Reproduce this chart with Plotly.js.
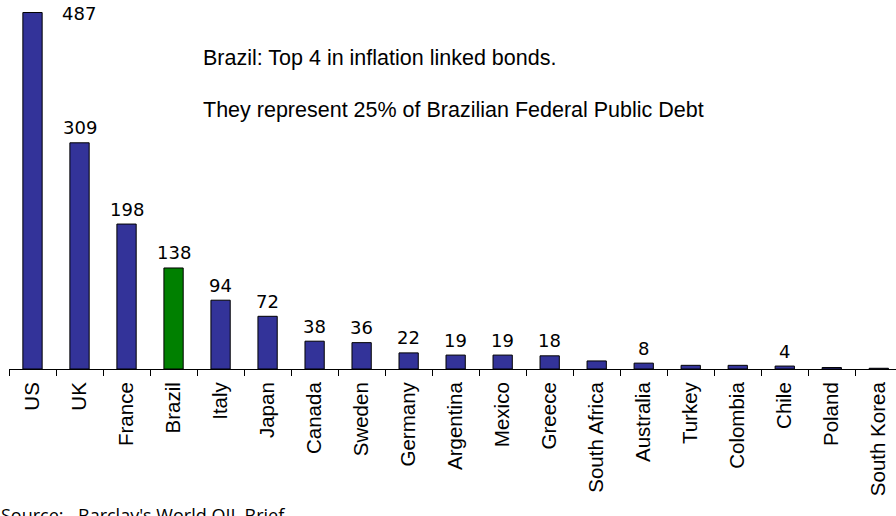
<!DOCTYPE html>
<html>
<head>
<meta charset="utf-8">
<script src="https://cdn.plot.ly/plotly-3.0.1.min.js"></script>
<style>html,body{margin:0;padding:0;background:#fff;}#chart{width:896px;height:516px;}</style>
</head>
<body>
<div id="chart"></div>
<script>
const countries = ["US","UK","France","Brazil","Italy","Japan","Canada","Sweden","Germany","Argentina","Mexico","Greece","South Africa","Australia","Turkey","Colombia","Chile","Poland","South Korea"];
const values = [487,309,198,138,94,72,38,36,22,19,19,18,11,8,5,5,4,2,1];
const shownLabels = ["487","309","198","138","94","72","38","36","22","19","19","18","","8","","","4","",""];
const highlight = "Brazil";
const noteLines = ["Brazil: Top 4 in inflation linked bonds.","They represent 25% of Brazilian Federal Public Debt"];
const sourceParts = ["Source:","Barclay's World OIL Brief"];

const colors = countries.map(c => c === highlight ? "#008000" : "#333399");

const W = 896, H = 516;
const plotTop = 3, plotBottom = 369.5, plotLeft = 9.3, catW = 47;
const plotH = plotBottom - plotTop;
const plotW = W - plotLeft;
const xMax = -0.5 + plotW / catW;

const FONT = "Liberation Sans, Arial, sans-serif";
const annotations = [];
countries.forEach((c, i) => {
  if (!shownLabels[i]) return;
  const isTop = i === 0;
  annotations.push({
    x: c, y: values[i], xref: "x", yref: "y",
    text: shownLabels[i], showarrow: false,
    xanchor: "center", yanchor: "middle",
    xshift: isTop ? 46 : 0, yshift: isTop ? -1 : 15,
    font: {family: "DejaVu Sans, sans-serif", size: 18, color: "#000"}
  });
});
const py = p => (plotBottom - p) / plotH;
noteLines.forEach((t, k) => {
  annotations.push({
    x: (201 - plotLeft) / plotW, y: py(k === 0 ? 58 : 110),
    xref: "paper", yref: "paper", text: t, showarrow: false,
    xanchor: "left", yanchor: "middle",
    font: {family: FONT, size: 21.5, color: "#000"}
  });
});
[-1, 76].forEach((px, k) => {
  annotations.push({
    x: (px - plotLeft) / plotW, y: py(502),
    xref: "paper", yref: "paper", text: sourceParts[k], showarrow: false,
    xanchor: "left", yanchor: "top",
    font: {family: "Open Sans, sans-serif", size: 18, color: "#000"}
  });
});

const trace = {
  type: "bar", x: countries, y: values,
  marker: {color: colors, line: {color: "#000", width: 1}},
  hoverinfo: "skip"
};

const layout = {
  width: W, height: H,
  margin: {l: plotLeft, r: 0, t: plotTop, b: H - plotBottom, pad: 0},
  paper_bgcolor: "#fff", plot_bgcolor: "#fff",
  showlegend: false, bargap: 0.59,
  xaxis: {
    type: "category", range: [-0.5, xMax], tickson: "boundaries",
    ticks: "outside", ticklen: 6, tickcolor: "#000", tickwidth: 1,
    showline: true, linecolor: "#000", linewidth: 1,
    showgrid: false, zeroline: false, tickangle: -90, ticklabelstandoff: 4,
    tickfont: {family: FONT, size: 20.5, color: "#000"}, fixedrange: true
  },
  yaxis: {
    range: [0, 500], visible: false, showgrid: false, zeroline: false, fixedrange: true
  },
  annotations: annotations
};

Plotly.newPlot("chart", [trace], layout, {displayModeBar: false, staticPlot: true});
</script>
</body>
</html>
